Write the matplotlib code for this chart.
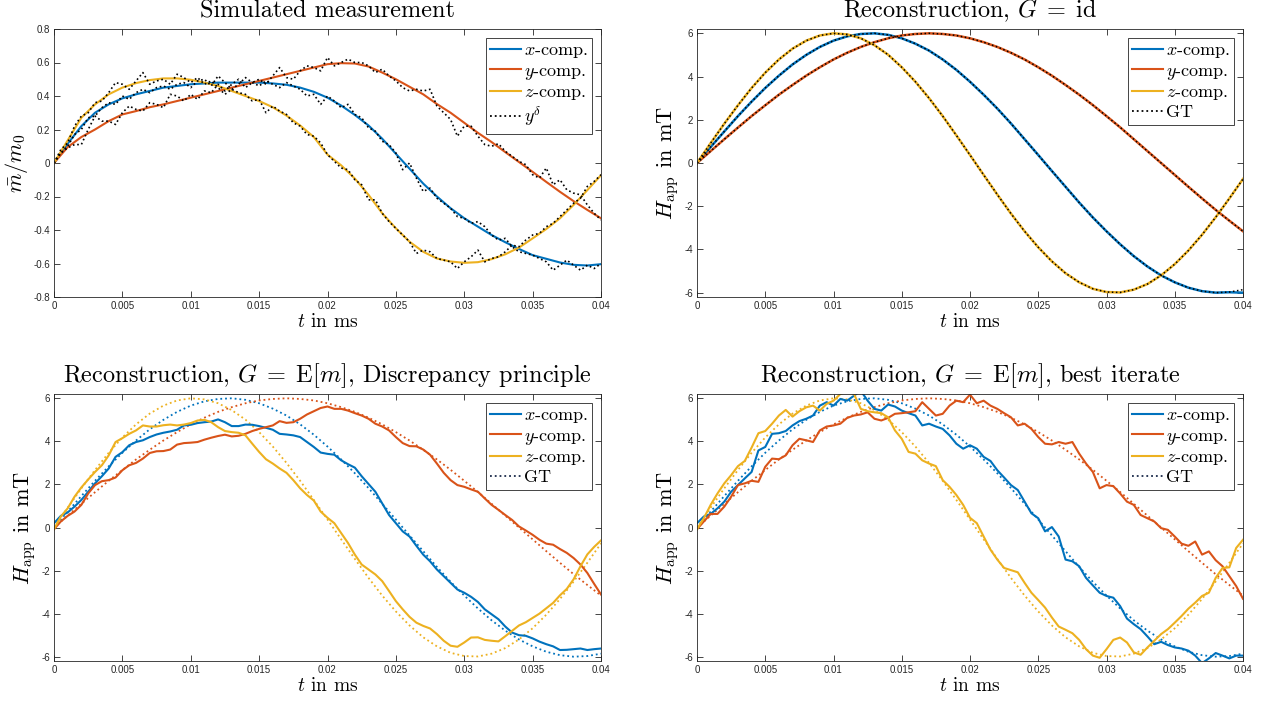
import numpy as np
import matplotlib
matplotlib.use("Agg")
import matplotlib.pyplot as plt
from matplotlib.lines import Line2D

plt.rcParams['font.family'] = ['cmr10', 'DejaVu Serif']
plt.rcParams['mathtext.fontset'] = 'cm'
plt.rcParams['axes.unicode_minus'] = False

# time grids (ms)
t_c = np.linspace(0, 0.04, 41)   # 0.001 spacing
t_f = np.linspace(0, 0.04, 81)   # 0.0005 spacing

# ---- simulated measurement m/m0 (smooth) ----
m_x = [0, 0.115, 0.22, 0.30, 0.35, 0.386, 0.41, 0.43, 0.45, 0.46, 0.47,
       0.475, 0.48, 0.48, 0.48, 0.48, 0.475, 0.467, 0.45, 0.425, 0.39,
       0.343, 0.287, 0.224, 0.145, 0.055, -0.034, -0.123, -0.20, -0.27, -0.33,
       -0.38, -0.43, -0.473, -0.513, -0.55, -0.572, -0.594, -0.608, -0.612, -0.604]
m_y = [0, 0.095, 0.155, 0.20, 0.25, 0.29, 0.31, 0.333, 0.35, 0.37, 0.39,
       0.41, 0.43, 0.45, 0.47, 0.49, 0.51, 0.53, 0.55, 0.57, 0.59,
       0.596, 0.594, 0.576, 0.54, 0.50, 0.455, 0.41, 0.352, 0.30, 0.24,
       0.18, 0.125, 0.065, 0.006, -0.053, -0.113, -0.172, -0.228, -0.28, -0.33]
m_z = [0, 0.135, 0.27, 0.35, 0.41, 0.45, 0.477, 0.495, 0.505, 0.505, 0.497,
       0.48, 0.46, 0.43, 0.40, 0.37, 0.333, 0.283, 0.224, 0.155, 0.05,
       -0.014, -0.093, -0.19, -0.30, -0.39, -0.47, -0.53, -0.57, -0.588, -0.596,
       -0.592, -0.574, -0.545, -0.505, -0.45, -0.394, -0.33, -0.25, -0.162, -0.073]

# ---- noisy measurement y^delta ----
yd_x = [0.0, 0.06, 0.10, 0.17, 0.20, 0.27, 0.28, 0.33, 0.36, 0.35, 0.40,
        0.38, 0.42, 0.44, 0.42, 0.45, 0.46, 0.44, 0.47, 0.48, 0.45,
        0.49, 0.50, 0.46, 0.52, 0.48, 0.44, 0.47, 0.51, 0.48, 0.46,
        0.49, 0.47, 0.45, 0.48, 0.46, 0.44, 0.40, 0.41, 0.35, 0.40,
        0.37, 0.33, 0.35, 0.29, 0.27, 0.21, 0.19, 0.13, 0.11, 0.06,
        -0.04, 0.00, -0.09, -0.17, -0.15, -0.21, -0.24, -0.27, -0.32, -0.33,
        -0.36, -0.35, -0.38, -0.43, -0.46, -0.45, -0.50, -0.53, -0.54, -0.55,
        -0.57, -0.59, -0.64, -0.61, -0.58, -0.61, -0.64, -0.61, -0.63, -0.60]
yd_y = [0.0, 0.06, 0.09, 0.11, 0.11, 0.20, 0.28, 0.25, 0.25, 0.23, 0.30,
        0.34, 0.32, 0.31, 0.36, 0.35, 0.33, 0.41, 0.40, 0.37, 0.41,
        0.38, 0.43, 0.42, 0.47, 0.43, 0.47, 0.50, 0.45, 0.48, 0.50,
        0.47, 0.52, 0.57, 0.51, 0.50, 0.55, 0.58, 0.57, 0.55, 0.63,
        0.58, 0.60, 0.62, 0.60, 0.60, 0.58, 0.54, 0.56, 0.52, 0.49,
        0.45, 0.43, 0.44, 0.43, 0.44, 0.34, 0.30, 0.26, 0.16, 0.22,
        0.22, 0.16, 0.11, 0.10, 0.115, 0.07, 0.04, 0.01, -0.01, -0.07,
        -0.09, -0.03, -0.13, -0.10, -0.16, -0.18, -0.19, -0.25, -0.30, -0.34]
yd_z = [0.0, 0.08, 0.12, 0.22, 0.28, 0.30, 0.36, 0.37, 0.42, 0.48, 0.47,
        0.44, 0.49, 0.54, 0.47, 0.49, 0.50, 0.47, 0.53, 0.51, 0.48,
        0.51, 0.47, 0.49, 0.45, 0.41, 0.44, 0.42, 0.41, 0.37, 0.38,
        0.30, 0.34, 0.31, 0.29, 0.24, 0.22, 0.17, 0.16, 0.12, 0.05,
        0.01, -0.03, -0.04, -0.10, -0.13, -0.22, -0.22, -0.30, -0.35, -0.39,
        -0.43, -0.47, -0.54, -0.52, -0.53, -0.57, -0.58, -0.59, -0.63, -0.59,
        -0.56, -0.52, -0.59, -0.57, -0.56, -0.53, -0.49, -0.50, -0.46, -0.43,
        -0.42, -0.38, -0.36, -0.32, -0.28, -0.24, -0.21, -0.14, -0.11, -0.07]

# ---- ground truth H_app (mT) ----
gt_x = [0, 0.74, 1.46, 2.17, 2.84, 3.47, 4.04, 4.56, 5.00, 5.37, 5.66,
        5.86, 5.97, 6.00, 5.93, 5.77, 5.52, 5.20, 4.79, 4.31, 3.76,
        3.16, 2.52, 1.83, 1.10, 0.37, -0.37, -1.10, -1.83, -2.52, -3.16,
        -3.76, -4.31, -4.79, -5.20, -5.52, -5.77, -5.93, -6.00, -5.97, -5.86]
gt_y = [0, 0.55, 1.10, 1.64, 2.17, 2.67, 3.16, 3.61, 4.04, 4.43, 4.79,
        5.10, 5.37, 5.59, 5.77, 5.90, 5.97, 6.00, 5.97, 5.90, 5.77,
        5.59, 5.37, 5.10, 4.79, 4.43, 4.04, 3.61, 3.16, 2.68, 2.17,
        1.65, 1.10, 0.55, 0.0, -0.55, -1.10, -1.64, -2.17, -2.67, -3.16]
gt_z = [0, 0.92, 1.82, 2.67, 3.47, 4.18, 4.79, 5.29, 5.66, 5.90, 6.00,
        5.95, 5.77, 5.45, 5.01, 4.43, 3.76, 3.00, 2.17, 1.28, 0.37,
        -0.55, -1.46, -2.34, -3.16, -3.90, -4.55, -5.10, -5.52, -5.82, -5.97,
        -5.99, -5.86, -5.60, -5.20, -4.68, -4.05, -3.32, -2.51, -1.64, -0.74]

# ---- reconstruction G = id (coincides with GT) ----
id_x = [0, 0.74, 1.46, 2.17, 2.84, 3.47, 4.04, 4.56, 5.00, 5.37, 5.66,
        5.86, 5.97, 6.00, 5.93, 5.77, 5.52, 5.20, 4.79, 4.31, 3.76,
        3.16, 2.52, 1.83, 1.10, 0.37, -0.37, -1.10, -1.83, -2.52, -3.16,
        -3.76, -4.31, -4.79, -5.20, -5.52, -5.77, -5.93, -6.00, -5.98, -6.00]
id_y = gt_y
id_z = gt_z

# ---- reconstruction G = E[m], discrepancy principle ----
dp_x = [0.2, 0.54, 0.7, 0.97, 1.28, 1.66, 2.05, 2.38, 2.74, 3.28, 3.5,
        3.82, 3.97, 4.05, 4.2, 4.32, 4.4, 4.46, 4.54, 4.74, 4.77,
        4.85, 4.89, 4.92, 5.02, 4.89, 4.71, 4.71, 4.78, 4.77, 4.71,
        4.63, 4.54, 4.35, 4.32, 4.28, 4.2, 3.97, 3.74, 3.48, 3.42,
        3.38, 3.12, 2.94, 2.78, 2.38, 2.02, 1.66, 1.12, 0.58, 0.2,
        -0.18, -0.42, -0.85, -1.26, -1.57, -1.95, -2.26, -2.57, -2.88, -3.03,
        -3.22, -3.46, -3.8, -4.03, -4.26, -4.6, -4.88, -5.0, -5.03, -5.15,
        -5.3, -5.42, -5.52, -5.69, -5.68, -5.65, -5.62, -5.69, -5.65, -5.62]
dp_y = [-0.08, 0.28, 0.54, 0.74, 1.05, 1.58, 1.97, 2.15, 2.2, 2.32, 2.66,
        2.89, 3.0, 3.2, 3.46, 3.54, 3.55, 3.62, 3.85, 3.92, 3.94,
        3.97, 4.08, 4.17, 4.25, 4.31, 4.23, 4.26, 4.35, 4.48, 4.58,
        4.66, 4.74, 4.94, 4.86, 4.89, 5.05, 5.25, 5.4, 5.55, 5.62,
        5.51, 5.51, 5.43, 5.31, 5.2, 5.05, 4.82, 4.69, 4.51, 4.2,
        3.92, 3.78, 3.77, 3.62, 3.38, 2.97, 2.54, 2.2, 1.97, 1.89,
        1.77, 1.66, 1.35, 1.05, 0.82, 0.58, 0.35, 0.05, -0.14, -0.34,
        -0.57, -0.75, -0.8, -1.0, -1.18, -1.42, -1.72, -2.11, -2.62, -3.11]
dp_z = [-0.08, 0.51, 0.89, 1.43, 1.86, 2.23, 2.58, 2.89, 3.35, 3.97, 4.15,
        4.35, 4.51, 4.74, 4.69, 4.69, 4.75, 4.78, 4.74, 4.78, 4.85,
        4.97, 5.0, 4.89, 4.66, 4.48, 4.43, 4.4, 4.28, 3.89, 3.51,
        3.17, 2.97, 2.74, 2.54, 2.2, 1.82, 1.51, 1.25, 0.74, 0.45,
        0.2, -0.26, -0.72, -1.26, -1.72, -1.95, -2.18, -2.49, -2.95, -3.42,
        -3.8, -4.15, -4.42, -4.57, -4.69, -4.95, -5.26, -5.49, -5.54, -5.34,
        -5.11, -5.1, -5.22, -5.26, -5.29, -5.05, -4.8, -4.55, -4.4, -4.2,
        -4.0, -3.75, -3.5, -3.15, -2.85, -2.4, -1.8, -1.25, -0.9, -0.6]

# ---- reconstruction G = E[m], best iterate ----
bi_x = [0.2, 0.51, 0.63, 0.89, 1.2, 1.66, 1.97, 2.28, 2.58, 3.58, 3.74,
        4.35, 4.38, 4.48, 4.74, 4.94, 5.05, 5.2, 5.66, 5.82, 5.66,
        5.97, 5.89, 6.12, 6.35, 5.89, 5.51, 5.43, 5.71, 5.62, 5.43,
        5.31, 5.2, 4.74, 4.82, 4.69, 4.58, 4.28, 3.89, 3.66, 3.82,
        3.66, 3.28, 3.09, 2.66, 2.32, 1.97, 1.74, 1.2, 0.66, 0.43,
        -0.18, 0.02, -0.42, -1.49, -1.57, -1.8, -2.34, -2.69, -3.03, -3.18,
        -3.26, -3.65, -4.23, -4.49, -4.72, -5.06, -5.42, -5.31, -5.46, -5.57,
        -5.62, -5.72, -5.95, -6.3, -6.08, -5.83, -5.95, -6.08, -5.95, -5.95]
bi_y = [-0.08, 0.28, 0.63, 0.63, 0.97, 1.43, 1.97, 2.05, 2.17, 2.12, 2.82,
        3.2, 3.17, 3.35, 3.82, 4.12, 4.05, 3.97, 4.51, 4.69, 4.74,
        4.82, 5.09, 5.2, 5.25, 5.35, 5.05, 4.97, 5.09, 5.28, 5.31,
        5.35, 5.4, 5.82, 5.51, 5.2, 5.28, 5.66, 5.89, 5.82, 6.17,
        5.77, 5.89, 5.66, 5.51, 5.31, 5.12, 4.74, 4.82, 4.58, 4.2,
        3.89, 3.86, 3.97, 3.89, 3.97, 3.43, 2.97, 2.58, 1.82, 1.97,
        1.92, 1.58, 1.2, 1.05, 0.58, 0.43, 0.28, -0.03, -0.11, -0.42,
        -0.75, -0.85, -0.65, -1.26, -1.11, -1.52, -1.8, -2.26, -2.72, -3.31]
bi_z = [-0.08, 0.43, 1.05, 1.58, 2.05, 2.43, 2.85, 3.09, 3.71, 4.38, 4.48,
        4.82, 5.2, 5.46, 5.15, 5.4, 5.58, 5.66, 5.43, 5.74, 5.89,
        6.2, 6.3, 6.2, 5.51, 5.4, 5.35, 5.31, 5.12, 4.51, 4.12,
        3.51, 3.43, 3.12, 2.97, 2.85, 2.2, 1.89, 1.51, 1.05, 0.45,
        0.2, -0.42, -1.03, -1.49, -1.88, -1.98, -2.08, -2.57, -3.03, -3.37,
        -3.72, -4.18, -4.6, -4.75, -4.91, -5.22, -5.65, -5.95, -6.05, -5.65,
        -5.22, -5.11, -5.34, -5.8, -5.91, -5.57, -5.26, -4.95, -4.72, -4.42,
        -4.11, -3.77, -3.49, -3.18, -3.03, -2.34, -1.88, -1.85, -0.95, -0.57]

colors = ['#0072BD', '#D95319', '#EDB120']
comp_labels = [r'$x$-comp.', r'$y$-comp.', r'$z$-comp.']
xticks = [0, 0.005, 0.01, 0.015, 0.02, 0.025, 0.03, 0.035, 0.04]
xticklabels = ['0', '0.005', '0.01', '0.015', '0.02', '0.025', '0.03', '0.035', '0.04']
hticks = [-6, -4, -2, 0, 2, 4, 6]
mticks = [-0.8, -0.6, -0.4, -0.2, 0, 0.2, 0.4, 0.6, 0.8]

fig = plt.figure(figsize=(12.66, 7.04), dpi=100)
W, H = 1266, 704


def make_ax(x0, x1, ytop, ybot):
    return fig.add_axes([x0 / W, 1 - ybot / H, (x1 - x0) / W, (ybot - ytop) / H])


def style(ax, title, ylabel, yticks, ylim):
    ax.set_xlim(0, 0.04)
    ax.set_ylim(*ylim)
    ax.set_xticks(xticks)
    ax.set_xticklabels(xticklabels)
    ax.set_yticks(yticks)
    ax.set_yticklabels(['%g' % v for v in yticks])
    ax.tick_params(direction='in', top=True, right=True, length=4, width=0.6,
                   labelsize=7, colors='#262626', labelfontfamily='Liberation Sans', pad=3)
    for s in ax.spines.values():
        s.set_linewidth(0.6)
        s.set_color('#262626')
    ax.set_title(title, fontsize=17.5, pad=8.5)
    ax.set_xlabel(r'$t$ in ms', fontsize=14, labelpad=1)
    ax.set_ylabel(ylabel, fontsize=16, labelpad=2)


def legend(ax, last_label, last_color):
    handles = [Line2D([], [], color=c, lw=1.5) for c in colors]
    handles.append(Line2D([], [], color=last_color, lw=1.3, ls=':'))
    ax.legend(handles, comp_labels + [last_label], loc='upper right', fontsize=13,
              frameon=True, fancybox=False, edgecolor='#262626', framealpha=1,
              borderpad=0.25, labelspacing=0.15, handlelength=1.7, handletextpad=0.15,
              borderaxespad=0.5).get_frame().set_linewidth(0.6)


# top-left: simulated measurement
ax1 = make_ax(54, 601, 29, 297)
for m, c in zip([m_x, m_y, m_z], colors):
    ax1.plot(t_c, m, color=c, lw=1.5)
for yd in [yd_x, yd_y, yd_z]:
    ax1.plot(t_f, yd, color='black', lw=1.2, ls=':')
style(ax1, 'Simulated measurement', r'$\bar{m}/m_0$', mticks, (-0.8, 0.8))
legend(ax1, r'$y^\delta$', 'black')

# top-right: G = id
ax2 = make_ax(697, 1243, 29, 297)
for r, c in zip([id_x, id_y, id_z], colors):
    ax2.plot(t_c, r, color=c, lw=1.8)
for g in [gt_x, gt_y, gt_z]:
    ax2.plot(t_c, g, color='black', lw=1.1, ls=':')
style(ax2, r'Reconstruction, $G\;=\;\mathrm{id}$', r'$H_{\mathrm{app}}$ in mT', hticks, (-6.2, 6.2))
legend(ax2, 'GT', 'black')

# bottom-left: discrepancy principle
ax3 = make_ax(54, 601, 394, 661)
for g, c in zip([gt_x, gt_y, gt_z], colors):
    ax3.plot(t_c, g, color=c, lw=1.3, ls=':')
for r, c in zip([dp_x, dp_y, dp_z], colors):
    ax3.plot(t_f, r, color=c, lw=1.5)
style(ax3, r'Reconstruction, $G\;=\;\mathrm{E}[m]$, Discrepancy principle',
      r'$H_{\mathrm{app}}$ in mT', hticks, (-6.2, 6.2))
legend(ax3, 'GT', '#1a2a4a')

# bottom-right: best iterate
ax4 = make_ax(697, 1243, 394, 661)
for g, c in zip([gt_x, gt_y, gt_z], colors):
    ax4.plot(t_c, g, color=c, lw=1.3, ls=':')
for r, c in zip([bi_x, bi_y, bi_z], colors):
    ax4.plot(t_f, r, color=c, lw=1.5)
style(ax4, r'Reconstruction, $G\;=\;\mathrm{E}[m]$, best iterate',
      r'$H_{\mathrm{app}}$ in mT', hticks, (-6.2, 6.2))
legend(ax4, 'GT', '#1a2a4a')

fig.savefig('out.png', dpi=100)
